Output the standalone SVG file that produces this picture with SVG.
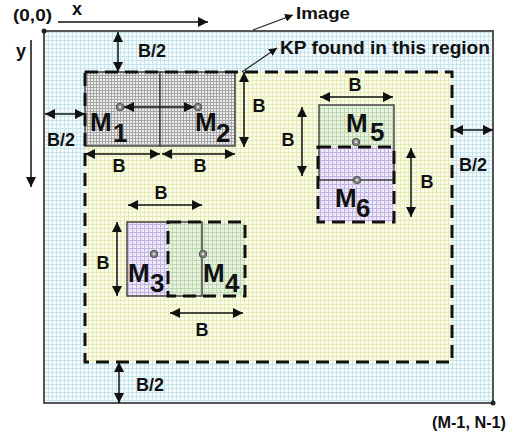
<svg xmlns="http://www.w3.org/2000/svg" width="506" height="431" viewBox="0 0 506 431">
<style>
text{font-family:"Liberation Sans",Arial,sans-serif;font-weight:bold;fill:#111}
.lbl{font-size:18px}
.big{font-size:26px}
.ar{stroke:#111;stroke-width:1.5;fill:none;marker-start:url(#ah);marker-end:url(#ah)}
.ar1{stroke:#111;stroke-width:1.5;fill:none;marker-end:url(#ah)}
.pt{stroke:#222;stroke-width:1.2;fill:none;marker-end:url(#sh)}
.dash{fill:none;stroke:#111;stroke-width:3;stroke-dasharray:13 7}
.solid{fill:none;stroke:#444;stroke-width:1.5}
.dot{fill:#8a8a8a;stroke:#555;stroke-width:1.2}
</style>
<defs>
<marker id="ah" viewBox="0 0 10 10" refX="10" refY="5" markerWidth="10" markerHeight="10" markerUnits="userSpaceOnUse" orient="auto-start-reverse"><path d="M0 0L10 5L0 10Z" fill="#111"/></marker>
<marker id="sh" viewBox="0 0 10 10" refX="10" refY="5" markerWidth="8" markerHeight="8" markerUnits="userSpaceOnUse" orient="auto"><path d="M0 0L10 5L0 10Z" fill="#111"/></marker>
<pattern id="gBlue" width="4" height="4" patternUnits="userSpaceOnUse"><rect width="4" height="4" fill="#f5fbfc"/><path d="M0 0.5H4M0.5 0V4" stroke="#c6e4eb" stroke-width="1"/></pattern>
<pattern id="gYel" width="4" height="4" patternUnits="userSpaceOnUse"><rect width="4" height="4" fill="#fcfcea"/><path d="M0 0.5H4M0.5 0V4" stroke="#e6eab4" stroke-width="1"/></pattern>
<pattern id="gGrey" width="3" height="3" patternUnits="userSpaceOnUse"><rect width="3" height="3" fill="#ececec"/><path d="M0 0.5H3M0.5 0V3" stroke="#a6a6a6" stroke-width="1"/></pattern>
<pattern id="gGrn" width="4" height="4" patternUnits="userSpaceOnUse"><rect width="4" height="4" fill="#eaf3e3"/><path d="M0 0.5H4M0.5 0V4" stroke="#bcd9ae" stroke-width="1"/></pattern>
<pattern id="gPur" width="4" height="4" patternUnits="userSpaceOnUse"><rect width="4" height="4" fill="#efeaf8"/><path d="M0 0.5H4M0.5 0V4" stroke="#c2b4e2" stroke-width="1"/></pattern>
</defs>

<g id="image">
<rect x="44" y="31" width="449" height="372" fill="url(#gBlue)" stroke="#555" stroke-width="2"/>
<circle cx="44" cy="31" r="2.5" fill="#222"/>
<circle cx="493" cy="403" r="2.5" fill="#222"/>
</g>

<g id="kp-region">
<rect x="85" y="72" width="367" height="290" fill="url(#gYel)"/>
</g>

<g id="M1">
<rect x="85" y="72" width="75" height="74" fill="url(#gGrey)"/>
<rect x="85" y="72" width="75" height="74" class="solid"/>
<circle cx="120" cy="107" r="3.5" class="dot"/><circle cx="120" cy="107" r="1.3" fill="#ddd"/>
<text class="big" x="90" y="131">M</text><text class="big" x="113" y="142">1</text>
</g>
<g id="M2">
<rect x="160" y="72" width="75" height="74" fill="url(#gGrey)"/>
<rect x="160" y="72" width="75" height="74" class="solid"/>
<circle cx="198" cy="107" r="3.5" class="dot"/><circle cx="198" cy="107" r="1.3" fill="#ddd"/>
<text class="big" x="195" y="131">M</text><text class="big" x="216" y="142">2</text>
</g>

<g id="M3">
<rect x="127" y="222" width="75" height="74" fill="url(#gPur)"/>
</g>
<g id="M4">
<rect x="168" y="222" width="77" height="74" fill="url(#gGrn)"/>
<rect x="127" y="222" width="75" height="74" class="solid"/>
<rect x="168" y="222" width="77" height="74" class="dash"/>
<circle cx="154" cy="254" r="3.5" class="dot"/><circle cx="154" cy="254" r="1.3" fill="#ddd"/>
<circle cx="203" cy="254" r="3.5" class="dot"/><circle cx="203" cy="254" r="1.3" fill="#ddd"/>
<text class="big" x="128" y="282">M</text><text class="big" x="150" y="292">3</text>
<text class="big" x="203" y="282">M</text><text class="big" x="225" y="292">4</text>
</g>

<g id="M5">
<rect x="319" y="105" width="75" height="75" fill="url(#gGrn)"/>
</g>
<g id="M6">
<rect x="318" y="147" width="76" height="75" fill="url(#gPur)"/>
<rect x="319" y="105" width="75" height="75" class="solid"/>
<rect x="318" y="147" width="76" height="75" class="dash"/>
<circle cx="356" cy="142" r="3.5" class="dot"/><circle cx="356" cy="142" r="1.3" fill="#ddd"/>
<circle cx="357" cy="180" r="3.5" class="dot"/><circle cx="357" cy="180" r="1.3" fill="#ddd"/>
<text class="big" x="346" y="132">M</text><text class="big" x="370" y="141">5</text>
<text class="big" x="335" y="207">M</text><text class="big" x="356" y="217">6</text>
</g>

<g id="region-border">
<rect x="85" y="72" width="367" height="290" class="dash"/>
</g>

<g id="connectors">
<path class="ar1" d="M58 22H208"/>
<path class="ar1" d="M31 40V187"/>
<path class="pt" d="M253 30L293 15"/>
<path class="pt" d="M242 72L277 48"/>
<path class="ar" d="M118 32V72"/>
<path class="ar" d="M45 114H85"/>
<path class="ar" d="M124 107H194"/>
<path class="ar" d="M85 154H160"/>
<path class="ar" d="M162 154H235"/>
<path class="ar" d="M244 72V147"/>
<path class="ar" d="M128 205H202"/>
<path class="ar" d="M117 222V296"/>
<path class="ar" d="M170 313H243"/>
<path class="ar" d="M119 362V403"/>
<path class="ar" d="M320 97H393"/>
<path class="ar" d="M302 107V176"/>
<path class="ar" d="M411 148V217"/>
<path class="ar" d="M453 130H493"/>
</g>

<g id="labels">
<text x="13" y="21" style="font-size:17px" textLength="39" lengthAdjust="spacingAndGlyphs">(0,0)</text>
<text x="72" y="15" style="font-size:18px">x</text>
<text x="16" y="57" style="font-size:18px">y</text>
<text x="296" y="19" style="font-size:17px" textLength="54" lengthAdjust="spacingAndGlyphs">Image</text>
<text x="280" y="54" style="font-size:18px" textLength="210" lengthAdjust="spacingAndGlyphs">KP found in this region</text>
<text x="432" y="428" style="font-size:16px" textLength="74" lengthAdjust="spacingAndGlyphs">(M-1, N-1)</text>
<text class="lbl" x="152" y="57" text-anchor="middle">B/2</text>
<text class="lbl" x="61" y="146" text-anchor="middle">B/2</text>
<text class="lbl" x="119" y="172" text-anchor="middle">B</text>
<text class="lbl" x="200" y="172" text-anchor="middle">B</text>
<text class="lbl" x="259" y="112" text-anchor="middle">B</text>
<text class="lbl" x="161" y="199" text-anchor="middle">B</text>
<text class="lbl" x="103" y="269" text-anchor="middle">B</text>
<text class="lbl" x="202" y="336" text-anchor="middle">B</text>
<text class="lbl" x="150" y="391" text-anchor="middle">B/2</text>
<text class="lbl" x="355" y="91" text-anchor="middle">B</text>
<text class="lbl" x="288" y="146" text-anchor="middle">B</text>
<text class="lbl" x="427" y="188" text-anchor="middle">B</text>
<text class="lbl" x="473" y="171" text-anchor="middle">B/2</text>
</g>
</svg>
